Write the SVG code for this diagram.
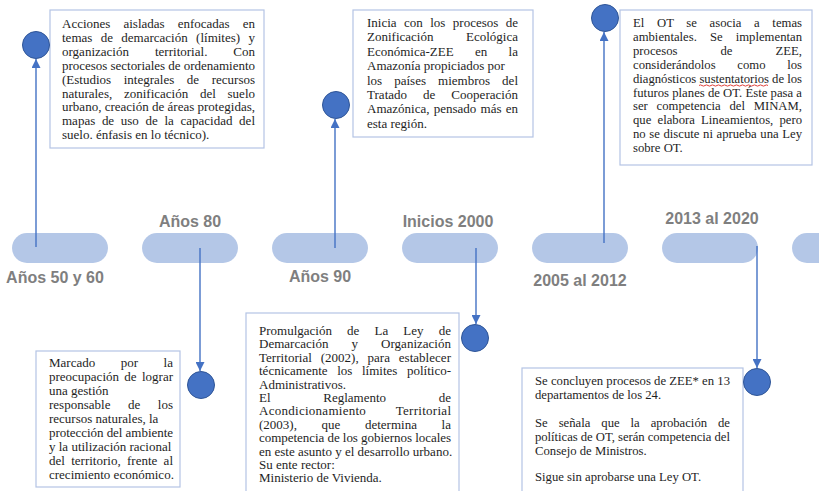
<svg xmlns="http://www.w3.org/2000/svg" width="819" height="491" viewBox="0 0 819 491">
<style>
.bg{fill:#ffffff}
.box{fill:#ffffff;stroke:#b4c4e4;stroke-width:1.2}
.t{font-family:"Liberation Serif","Times New Roman",serif;font-size:13px;fill:#1e1e1e}
.s{font-size:12.7px}
.pill{fill:#b4c7e7}
.lbl{font-family:"Liberation Sans",Arial,sans-serif;font-weight:bold;font-size:16px;fill:#7f7f7f;text-anchor:middle}
.dot{fill:#4472c4;stroke:#2f5597;stroke-width:1}
.conn{stroke:#4472c4;stroke-width:1.4;fill:none;marker-end:url(#arr)}
</style>
<defs>
<marker id="arr" markerWidth="9" markerHeight="9" refX="9" refY="4.5" orient="auto" markerUnits="userSpaceOnUse">
<path d="M0,0 L9,4.5 L0,9 z" fill="#4472c4"/>
</marker>
</defs>
<rect class="bg" x="0" y="0" width="819" height="491"/>

<g id="timeline">
<g id="pill-1"><rect class="pill" x="12" y="233" width="96" height="30" rx="15"/><text class="lbl" x="55" y="283">Años 50 y 60</text></g>
<g id="pill-2"><rect class="pill" x="142" y="233" width="96" height="30" rx="15"/><text class="lbl" x="190" y="227">Años 80</text></g>
<g id="pill-3"><rect class="pill" x="272" y="233" width="96" height="30" rx="15"/><text class="lbl" x="320" y="282">Años 90</text></g>
<g id="pill-4"><rect class="pill" x="402" y="233" width="96" height="30" rx="15"/><text class="lbl" x="448" y="227">Inicios 2000</text></g>
<g id="pill-5"><rect class="pill" x="532" y="233" width="96" height="30" rx="15"/><text class="lbl" x="580" y="286">2005 al 2012</text></g>
<g id="pill-6"><rect class="pill" x="662" y="233" width="96" height="30" rx="15"/><text class="lbl" x="712" y="224">2013 al 2020</text></g>
<g id="pill-7"><rect class="pill" x="792" y="233" width="96" height="30" rx="15"/></g>
</g>

<g id="connectors">
<path class="conn" d="M36,247 L36,59"/>
<path class="conn" d="M200,248 L200,371"/>
<path class="conn" d="M335,248 L335,119"/>
<path class="conn" d="M476,248 L476,324"/>
<path class="conn" d="M604,243 L604,32"/>
<path class="conn" d="M757,246 L757,368"/>
</g>

<g id="event-1">
<rect class="box" x="50" y="10" width="214" height="138"/>
<circle class="dot" cx="36" cy="45" r="13.5"/>
<text class="t" x="62" y="28" word-spacing="9.8" textLength="193" lengthAdjust="spacing">Acciones aisladas enfocadas en</text>
<text class="t" x="62" y="41.9" word-spacing="5.1" textLength="193" lengthAdjust="spacing">temas de demarcación (límites) y</text>
<text class="t" x="62" y="55.8" word-spacing="22.7" textLength="193" lengthAdjust="spacing">organización territorial. Con</text>
<text class="t" x="62" y="69.7" textLength="193" lengthAdjust="spacing">procesos sectoriales de ordenamiento</text>
<text class="t" x="62" y="83.6" word-spacing="9.3" textLength="193" lengthAdjust="spacing">(Estudios integrales de recursos</text>
<text class="t" x="62" y="97.5" word-spacing="8.5" textLength="193" lengthAdjust="spacing">naturales, zonificación del suelo</text>
<text class="t" x="62" y="111.4" textLength="193" lengthAdjust="spacing">urbano, creación de áreas protegidas,</text>
<text class="t" x="62" y="125.3" word-spacing="3.4" textLength="193" lengthAdjust="spacing">mapas de uso de la capacidad del</text>
<text class="t" x="62" y="139.2">suelo. énfasis en lo técnico).</text>
</g>

<g id="event-2">
<rect class="box" x="36" y="351" width="144" height="136"/>
<circle class="dot" cx="201" cy="385" r="13.5"/>
<text class="t" x="49" y="367" word-spacing="22.3" textLength="124" lengthAdjust="spacing">Marcado por la</text>
<text class="t" x="49" y="381" word-spacing="2.1" textLength="124" lengthAdjust="spacing">preocupación de lograr</text>
<text class="t" x="49" y="395">una gestión</text>
<text class="t" x="49" y="409" word-spacing="14.3" textLength="124" lengthAdjust="spacing">responsable de los</text>
<text class="t" x="49" y="423">recursos naturales, la</text>
<text class="t" x="49" y="437" textLength="124" lengthAdjust="spacing">protección del ambiente</text>
<text class="t" x="49" y="451">y la utilización racional</text>
<text class="t" x="49" y="465" word-spacing="3.1" textLength="124" lengthAdjust="spacing">del territorio, frente al</text>
<text class="t" x="49" y="479">crecimiento económico.</text>
</g>

<g id="event-3">
<rect class="box" x="353" y="10" width="180" height="127"/>
<circle class="dot" cx="336" cy="105" r="13.5"/>
<text class="t" x="367" y="27" word-spacing="4.2" textLength="151" lengthAdjust="spacing">Inicia con los procesos de</text>
<text class="t" x="367" y="41.4" word-spacing="29.3" textLength="151" lengthAdjust="spacing">Zonificación Ecológica</text>
<text class="t" x="367" y="55.8" word-spacing="18.1" textLength="151" lengthAdjust="spacing">Económica-ZEE en la</text>
<text class="t" x="367" y="70.2">Amazonía propiciados por</text>
<text class="t" x="367" y="84.6" word-spacing="8.8" textLength="151" lengthAdjust="spacing">los países miembros del</text>
<text class="t" x="367" y="99" word-spacing="12.7" textLength="151" lengthAdjust="spacing">Tratado de Cooperación</text>
<text class="t" x="367" y="113.4" word-spacing="1" textLength="151" lengthAdjust="spacing">Amazónica, pensado más en</text>
<text class="t" x="367" y="127.8">esta región.</text>
</g>

<g id="event-4">
<rect class="box" x="246" y="313" width="213" height="190"/>
<circle class="dot" cx="475" cy="338" r="13.5"/>
<text class="t" x="259" y="335" word-spacing="11.9" textLength="192" lengthAdjust="spacing">Promulgación de La Ley de</text>
<text class="t" x="259" y="348.4" word-spacing="19.8" textLength="192" lengthAdjust="spacing">Demarcación y Organización</text>
<text class="t" x="259" y="361.8" word-spacing="5.5" textLength="192" lengthAdjust="spacing">Territorial (2002), para establecer</text>
<text class="t" x="259" y="375.2" word-spacing="6.3" textLength="192" lengthAdjust="spacing">técnicamente los límites político-</text>
<text class="t" x="259" y="388.6">Administrativos.</text>
<text class="t" x="259" y="402" word-spacing="49.4" textLength="192" lengthAdjust="spacing">El Reglamento de</text>
<text class="t" x="259" y="415.4" word-spacing="26.3" textLength="192" lengthAdjust="spacing">Acondicionamiento Territorial</text>
<text class="t" x="259" y="428.8" word-spacing="21.4" textLength="192" lengthAdjust="spacing">(2003), que determina la</text>
<text class="t" x="259" y="442.2" textLength="192" lengthAdjust="spacing">competencia de los gobiernos locales</text>
<text class="t" x="259" y="455.6">en este asunto y el desarrollo urbano.</text>
<text class="t" x="259" y="469">Su ente rector:</text>
<text class="t" x="259" y="482.4">Ministerio de Vivienda.</text>
</g>

<g id="event-5">
<rect class="box" x="620" y="10" width="192" height="155"/>
<circle class="dot" cx="605" cy="18" r="13.5"/>
<text class="t s" x="633" y="27" word-spacing="9.5" textLength="169" lengthAdjust="spacing">El OT se asocia a temas</text>
<text class="t s" x="633" y="40.9" word-spacing="9.9" textLength="169" lengthAdjust="spacing">ambientales. Se implementan</text>
<text class="t s" x="633" y="54.8" word-spacing="39.9" textLength="169" lengthAdjust="spacing">procesos de ZEE,</text>
<text class="t s" x="633" y="68.7" word-spacing="18.5" textLength="169" lengthAdjust="spacing">considerándolos como los</text>
<text class="t s" x="633" y="82.6" textLength="169" lengthAdjust="spacing">diagnósticos sustentatorios de los</text>
<text class="t s" x="633" y="96.5" textLength="169" lengthAdjust="spacing">futuros planes de OT. Éste pasa a</text>
<text class="t s" x="633" y="110.4" word-spacing="5.5" textLength="169" lengthAdjust="spacing">ser competencia del MINAM,</text>
<text class="t s" x="633" y="124.3" word-spacing="3" textLength="169" lengthAdjust="spacing">que elabora Lineamientos, pero</text>
<text class="t s" x="633" y="138.2" word-spacing="0.4" textLength="169" lengthAdjust="spacing">no se discute ni aprueba una Ley</text>
<text class="t s" x="633" y="152.1">sobre OT.</text>
<path d="M699,85.5 q1.5,-1.2 3,0 t3,0 t3,0 t3,0 t3,0 t3,0 t3,0 t3,0 t3,0 t3,0 t3,0 t3,0 t3,0 t3,0 t3,0 t3,0 t3,0 t3,0 t3,0 t3,0 t3,0 t3,0 t3,0" fill="none" stroke="#e0413a" stroke-width="1"/>
</g>

<g id="event-6">
<rect class="box" x="522" y="368" width="221" height="135"/>
<circle class="dot" cx="757" cy="382" r="13.5"/>
<text class="t s" x="535" y="385" textLength="195" lengthAdjust="spacing">Se concluyen procesos de ZEE* en 13</text>
<text class="t s" x="535" y="399">departamentos de los 24.</text>
<text class="t s" x="535" y="427" word-spacing="7.8" textLength="195" lengthAdjust="spacing">Se señala que la aprobación de</text>
<text class="t s" x="535" y="441" textLength="195" lengthAdjust="spacing">políticas de OT, serán competencia del</text>
<text class="t s" x="535" y="455">Consejo de Ministros.</text>
<text class="t s" x="535" y="481">Sigue sin aprobarse una Ley OT.</text>
</g>
</svg>
